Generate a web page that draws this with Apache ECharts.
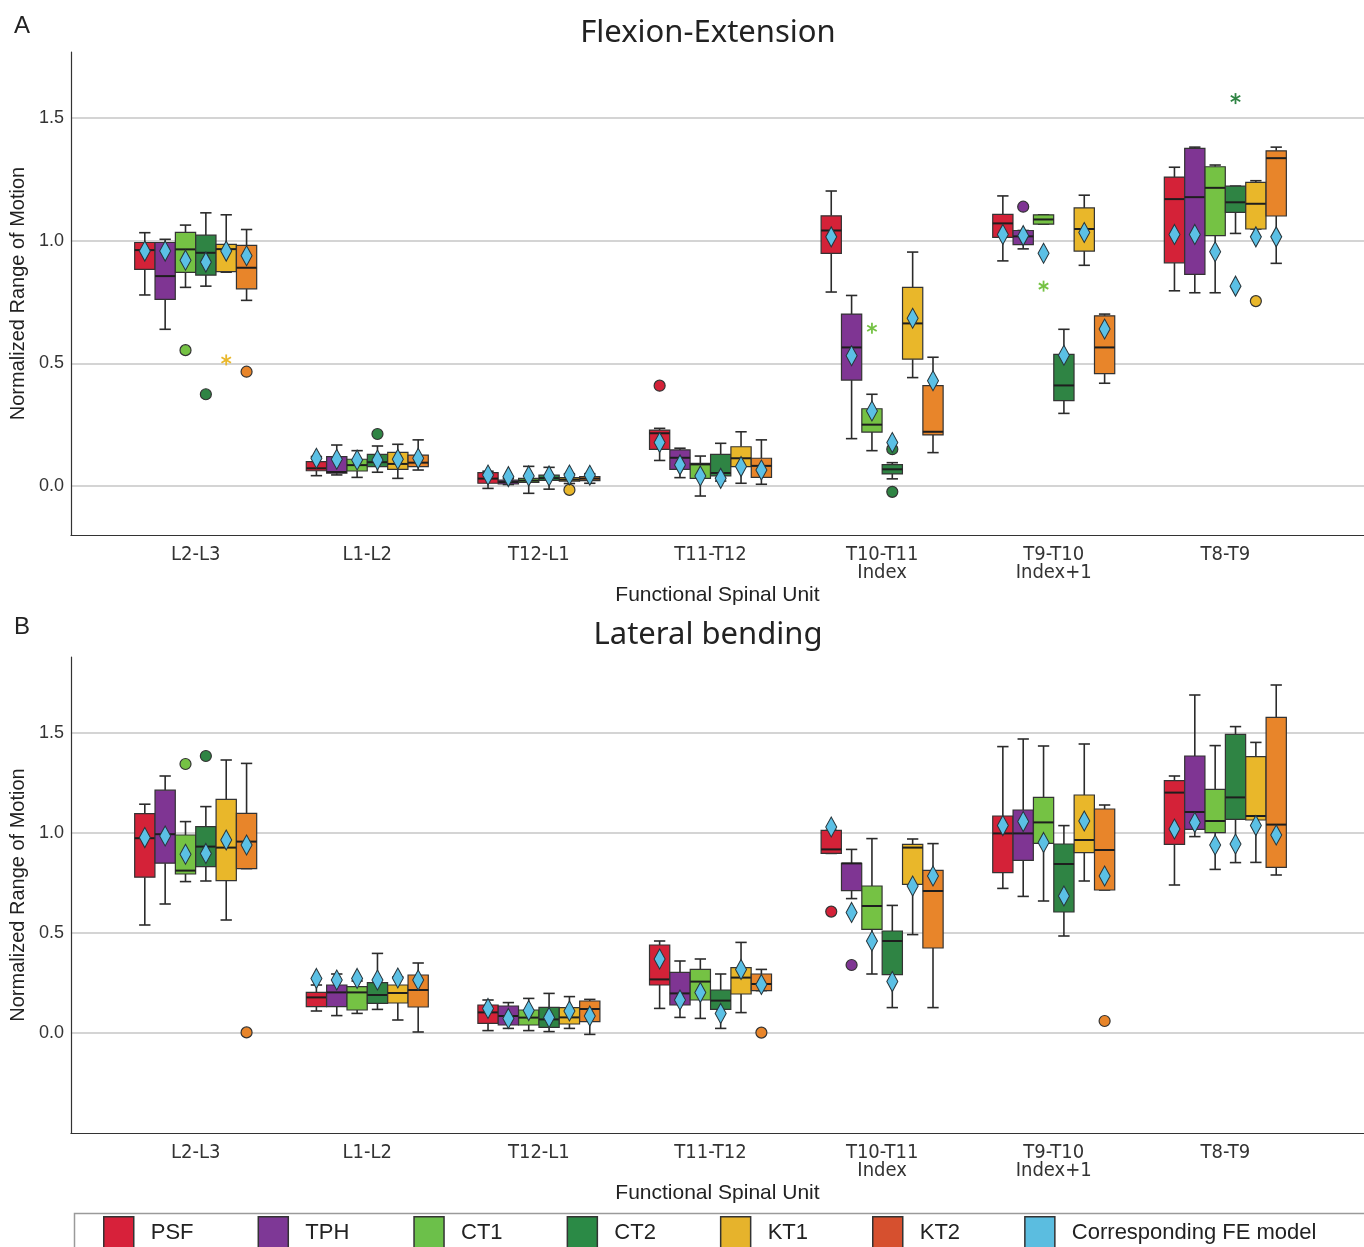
<!DOCTYPE html>
<html><head><meta charset="utf-8">
<script src="https://cdn.jsdelivr.net/npm/echarts@6/dist/echarts.min.js"></script>
<style>html,body{margin:0;padding:0;background:#fff}#c{width:1364px;height:1247px}</style>
</head><body><div id="c"></div><script>
const categories = ['L2-L3','L1-L2','T12-L1','T11-T12','T10-T11\nIndex','T9-T10\nIndex+1','T8-T9'];
const treatments = ['PSF','TPH','CT1','CT2','KT1','KT2'];
const feName = 'Corresponding FE model';
const yTicks = [0, 0.5, 1.0, 1.5];

// Flexion-Extension box stats per category: [min, q1, median, q3, max]
const flexPSF = [[0.779,0.883,0.962,0.993,1.033],[0.042,0.062,0.072,0.099,0.12],[-0.01,0.011,0.03,0.054,0.06],[0.104,0.149,0.215,0.228,0.235],[0.791,0.949,1.042,1.102,1.203],[0.918,1.014,1.071,1.108,1.183],[0.796,0.91,1.17,1.26,1.3]];
const flexTPH = [[0.639,0.761,0.856,0.993,1.006],[0.045,0.052,0.057,0.12,0.167],[0.006,0.008,0.016,0.024,0.03],[0.034,0.068,0.115,0.147,0.154],[0.193,0.432,0.565,0.701,0.777],[0.967,0.984,1.018,1.042,1.042],[0.788,0.863,1.178,1.377,1.382]];
const flexCT1 = [[0.81,0.871,0.965,1.034,1.064],[0.035,0.061,0.085,0.109,0.144],[-0.03,0.015,0.022,0.031,0.08],[-0.041,0.031,0.088,0.092,0.122],[0.144,0.22,0.25,0.315,0.374],[1.068,1.068,1.087,1.106,1.106],[0.788,1.021,1.216,1.302,1.309]];
const flexCT2 = [[0.815,0.86,0.951,1.023,1.114],[0.056,0.079,0.097,0.129,0.163],[-0.013,0.023,0.032,0.044,0.076],[0.02,0.041,0.053,0.129,0.174],[0.029,0.049,0.068,0.087,0.095],[0.296,0.348,0.41,0.537,0.639],[1.03,1.116,1.157,1.223,1.223]];
const flexKT1 = [[0.872,0.874,0.966,0.985,1.106],[0.031,0.068,0.09,0.137,0.17],[0.01,0.02,0.026,0.034,0.05],[0.011,0.079,0.113,0.16,0.221],[0.442,0.517,0.663,0.81,0.954],[0.9,0.958,1.048,1.134,1.186],[1.048,1.048,1.151,1.238,1.245]];
const flexKT2 = [[0.757,0.804,0.89,0.981,1.046],[0.065,0.079,0.095,0.126,0.188],[0.011,0.022,0.03,0.038,0.05],[0.007,0.035,0.082,0.113,0.188],[0.136,0.208,0.221,0.409,0.525],[0.419,0.458,0.565,0.694,0.701],[0.908,1.101,1.337,1.367,1.382]];
// Flexion-Extension FE model values per treatment, per category
const flexFE_PSF = [0.958,0.113,0.045,0.177,1.016,1.026,1.026];
const flexFE_TPH = [0.958,0.109,0.038,0.086,0.531,1.021,1.026];
const flexFE_CT1 = [0.921,0.106,0.041,0.041,0.306,0.949,0.955];
const flexFE_CT2 = [0.913,0.106,0.041,0.031,0.177,0.533,0.815];
const flexFE_KT1 = [0.958,0.109,0.045,0.079,0.684,1.034,1.016];
const flexFE_KT2 = [0.939,0.113,0.044,0.065,0.429,0.640,1.016];
// outliers: [treatmentIndex, categoryIndex, value]
const flexOutliers = [[0,3,0.409],[1,5,1.139],[2,0,0.554],[3,0,0.374],[3,1,0.212],[3,4,0.15],[3,4,-0.024],[4,2,-0.016],[4,6,0.754],[5,0,0.466]];
const flexExtremes = [[2,4,0.643],[2,5,0.815],[3,6,1.58],[4,0,0.514]];

// Lateral bending
const latPSF = [[0.54,0.779,0.974,1.097,1.144],[0.11,0.132,0.178,0.203,0.24],[0.012,0.048,0.103,0.14,0.165],[0.123,0.24,0.268,0.44,0.46],[0.898,0.898,0.918,1.013,1.013],[0.723,0.802,0.998,1.085,1.432],[0.74,0.943,1.202,1.262,1.285]];
const latTPH = [[0.645,0.849,0.994,1.214,1.285],[0.087,0.132,0.203,0.24,0.295],[0.023,0.04,0.085,0.135,0.152],[0.078,0.14,0.198,0.303,0.36],[0.672,0.712,0.848,0.848,0.918],[0.683,0.863,0.998,1.115,1.47],[0.982,1.018,1.105,1.385,1.69]];
const latCT1 = [[0.757,0.795,0.812,0.99,1.057],[0.098,0.115,0.203,0.232,0.26],[0.012,0.04,0.077,0.115,0.173],[0.073,0.165,0.257,0.318,0.37],[0.295,0.518,0.635,0.735,0.972],[0.66,0.948,1.053,1.178,1.435],[0.818,1.002,1.06,1.218,1.437]];
const latCT2 = [[0.76,0.832,0.932,1.032,1.132],[0.118,0.148,0.19,0.252,0.398],[0.007,0.028,0.068,0.128,0.198],[0.023,0.118,0.162,0.215,0.295],[0.127,0.292,0.46,0.51,0.638],[0.485,0.605,0.845,0.945,1.037],[0.852,1.068,1.178,1.493,1.532]];
const latKT1 = [[0.565,0.762,0.927,1.168,1.365],[0.065,0.15,0.2,0.24,0.28],[0.023,0.045,0.078,0.127,0.182],[0.102,0.195,0.277,0.327,0.453],[0.492,0.743,0.927,0.943,0.97],[0.76,0.902,0.965,1.19,1.445],[0.853,1.065,1.085,1.382,1.453]];
const latKT2 = [[0.822,0.822,0.957,1.098,1.348],[0.005,0.13,0.215,0.29,0.35],[-0.007,0.057,0.12,0.16,0.168],[0.212,0.212,0.245,0.295,0.318],[0.127,0.425,0.71,0.813,0.947],[0.715,0.715,0.915,1.12,1.14],[0.79,0.828,1.042,1.578,1.74]];
const latFE_PSF = [0.977,0.273,0.123,0.370,1.030,1.037,1.020];
const latFE_TPH = [0.985,0.265,0.073,0.165,0.603,1.057,1.052];
const latFE_CT1 = [0.894,0.273,0.112,0.203,0.460,0.953,0.940];
const latFE_CT2 = [0.898,0.265,0.078,0.098,0.257,0.685,0.945];
const latFE_KT1 = [0.965,0.275,0.110,0.318,0.735,1.060,1.037];
const latFE_KT2 = [0.940,0.265,0.085,0.243,0.785,0.785,0.990];
const latOutliers = [[0,4,0.607],[1,4,0.34],[2,0,1.345],[3,0,1.385],[5,0,0.003],[5,3,0.002],[5,5,0.06]];
const latExtremes = [];

const boxColors = ['#d42238','#7f3593','#75c244','#2f8444','#e9b72a','#e8852a'];
const legendColors = ['#d7213a','#7e3896','#6cc04a','#2b8a46','#e6b32c','#d6502f','#5bbde0'];
const feColor = '#5bc0e5';
const STEP = 0.1186, BW = 0.118;
const XMIN = -0.727, XMAX = 6.808;
const narrow = "'Liberation Sans Narrow','Arial Narrow','DejaVu Sans Condensed',sans-serif";
const sans = "'Liberation Sans',Arial,sans-serif";

function xPos(cat, t) { return cat + (t - 2.5) * STEP; }

function boxRender(params, api) {
  const cat = api.value(0), t = api.value(1);
  const xc = xPos(cat, t);
  const xl = api.coord([xc - BW / 2, 0])[0];
  const xr = api.coord([xc + BW / 2, 0])[0];
  const cx = (xl + xr) / 2, cap = (xr - xl) * 0.28;
  const y = i => api.coord([xc, api.value(i)])[1];
  const ymin = y(2), yq1 = y(3), ymed = y(4), yq3 = y(5), ymax = y(6);
  const ls = { stroke: '#2b2b2b', lineWidth: 1.6 };
  return { type: 'group', children: [
    { type: 'line', shape: { x1: cx, y1: ymax, x2: cx, y2: yq3 }, style: ls },
    { type: 'line', shape: { x1: cx, y1: yq1, x2: cx, y2: ymin }, style: ls },
    { type: 'line', shape: { x1: cx - cap, y1: ymax, x2: cx + cap, y2: ymax }, style: ls },
    { type: 'line', shape: { x1: cx - cap, y1: ymin, x2: cx + cap, y2: ymin }, style: ls },
    { type: 'rect', shape: { x: xl, y: yq3, width: xr - xl, height: Math.max(yq1 - yq3, 1) }, style: { fill: api.visual('color'), stroke: '#333', lineWidth: 1.2 } },
    { type: 'line', shape: { x1: xl, y1: ymed, x2: xr, y2: ymed }, style: { stroke: '#1e1e1e', lineWidth: 2 } }
  ]};
}

function starRender(params, api) {
  const p = api.coord([xPos(api.value(0), api.value(1)), api.value(2)]);
  const r = 5.5, col = api.visual('color');
  const ch = [];
  for (let k = 0; k < 3; k++) {
    const a = Math.PI / 2 + k * Math.PI / 3;
    ch.push({ type: 'line', shape: { x1: p[0] - r * Math.cos(a), y1: p[1] - r * Math.sin(a), x2: p[0] + r * Math.cos(a), y2: p[1] + r * Math.sin(a) }, style: { stroke: col, lineWidth: 1.8 } });
  }
  return { type: 'group', children: ch };
}

const panels = [
  { boxes: [flexPSF, flexTPH, flexCT1, flexCT2, flexKT1, flexKT2], fe: [flexFE_PSF, flexFE_TPH, flexFE_CT1, flexFE_CT2, flexFE_KT1, flexFE_KT2], outliers: flexOutliers, extremes: flexExtremes, ymin: -0.2, ymax: 1.77, top: 52, height: 483 },
  { boxes: [latPSF, latTPH, latCT1, latCT2, latKT1, latKT2], fe: [latFE_PSF, latFE_TPH, latFE_CT1, latFE_CT2, latFE_KT1, latFE_KT2], outliers: latOutliers, extremes: latExtremes, ymin: -0.5, ymax: 1.88, top: 657, height: 476 }
];

const grids = [], xAxes = [], yAxes = [], series = [];
panels.forEach((P, pi) => {
  grids.push({ left: 68, right: 0, top: P.top, height: P.height });
  xAxes.push({
    type: 'value', gridIndex: pi, min: XMIN, max: XMAX,
    name: 'Functional Spinal Unit', nameLocation: 'middle', nameGap: 50,
    nameTextStyle: { fontFamily: sans, fontSize: 21, color: '#222' },
    axisLine: { show: true, onZero: false, lineStyle: { color: '#333', width: 1.2 } },
    axisTick: { show: false }, splitLine: { show: false },
    axisLabel: { customValues: [0,1,2,3,4,5,6], formatter: v => categories[Math.round(v)], fontFamily: narrow, fontSize: 20, lineHeight: 18, color: '#333', margin: 11 }
  });
  yAxes.push({
    type: 'value', gridIndex: pi, min: P.ymin, max: P.ymax,
    name: 'Normalized Range of Motion', nameLocation: 'middle', nameGap: 36,
    nameTextStyle: { fontFamily: sans, fontSize: 20, color: '#222' },
    axisLine: { show: true, onZero: false, lineStyle: { color: '#333', width: 1.2 } },
    axisTick: { show: false, customValues: yTicks },
    splitLine: { show: true, lineStyle: { color: '#c6c6c6', width: 1.5 } },
    axisLabel: { customValues: yTicks, formatter: v => v.toFixed(1), fontFamily: sans, fontSize: 18, color: '#333', margin: 7 }
  });
  treatments.forEach((name, t) => {
    series.push({
      type: 'custom', name, xAxisIndex: pi, yAxisIndex: pi, z: 2,
      itemStyle: { color: boxColors[t] }, renderItem: boxRender,
      encode: { x: 0, y: [2, 6] },
      data: P.boxes[t].map((b, c) => [c, t].concat(b))
    });
    series.push({
      type: 'scatter', name, xAxisIndex: pi, yAxisIndex: pi, z: 3,
      symbol: 'circle', symbolSize: 11,
      itemStyle: { color: boxColors[t], borderColor: '#333', borderWidth: 1.2, opacity: 1 },
      data: P.outliers.filter(o => o[0] === t).map(o => [xPos(o[1], o[0]), o[2]])
    });
    series.push({
      type: 'custom', name, xAxisIndex: pi, yAxisIndex: pi, z: 3,
      itemStyle: { color: boxColors[t] }, renderItem: starRender,
      encode: { x: 0, y: 2 },
      data: P.extremes.filter(o => o[0] === t).map(o => [o[1], o[0], o[2]])
    });
  });
  const feData = [];
  treatments.forEach((name, t) => P.fe[t].forEach((v, c) => feData.push([xPos(c, t), v])));
  series.push({
    type: 'scatter', name: feName, xAxisIndex: pi, yAxisIndex: pi, z: 5,
    symbol: 'diamond', symbolSize: [11, 20],
    itemStyle: { color: feColor, borderColor: '#27343a', borderWidth: 1.1, opacity: 1 },
    data: feData
  });
});

const legendNames = treatments.concat([feName]);
const chart = echarts.init(document.getElementById('c'), null, { renderer: 'canvas' });
chart.setOption({
  animation: false,
  backgroundColor: '#fff',
  grid: grids, xAxis: xAxes, yAxis: yAxes, series,
  legend: {
    left: 72, top: 1211, orient: 'horizontal', icon: 'rect',
    itemWidth: 30, itemHeight: 32, itemGap: 64,
    padding: [5, 0, 12, 31],
    selectedMode: false,
    textStyle: { fontFamily: sans, fontSize: 22, color: '#222', padding: [0, 0, 0, 12] },
    data: legendNames.map((n, i) => ({
      name: n,
      itemStyle: { color: legendColors[i], borderColor: '#333', borderWidth: 1.5 }
    }))
  },
  graphic: [
    { type: 'rect', left: 72, top: 1211, shape: { width: 1310, height: 60 }, style: { fill: 'none', stroke: '#9a9a9a', lineWidth: 1.5 }, silent: true },
    { type: 'text', left: 14, top: 14, style: { text: 'A', font: '24px ' + sans, fill: '#222' } },
    { type: 'text', left: 14, top: 615, style: { text: 'B', font: '24px ' + sans, fill: '#222' } },
    { type: 'text', x: 708, y: 33, style: { text: 'Flexion-Extension', font: '31px "Noto Sans", "Open Sans", sans-serif', fill: '#222', textAlign: 'center', textVerticalAlign: 'middle' } },
    { type: 'text', x: 708, y: 635, style: { text: 'Lateral bending', font: '31px "Noto Sans", "Open Sans", sans-serif', fill: '#222', textAlign: 'center', textVerticalAlign: 'middle' } }
  ]
});
</script></body></html>
